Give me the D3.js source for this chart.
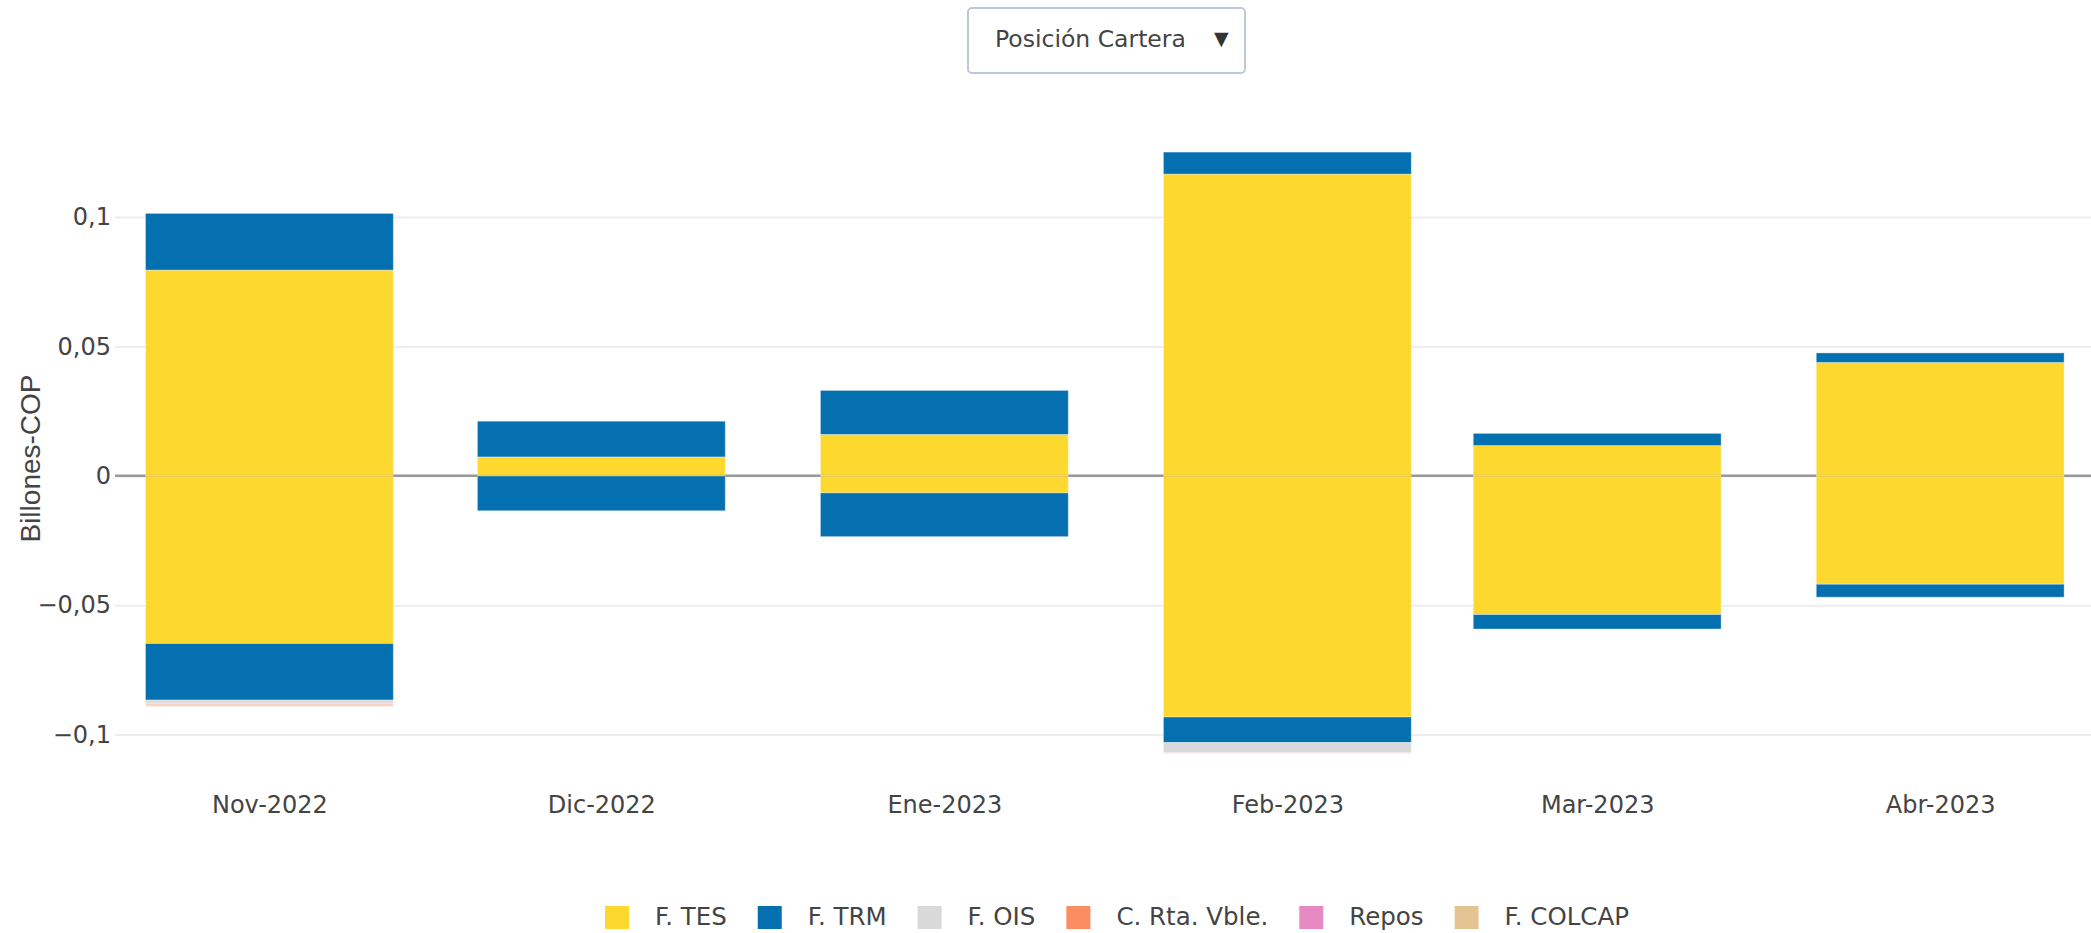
<!DOCTYPE html>
<html>
<head>
<meta charset="utf-8">
<script src="https://cdn.jsdelivr.net/npm/d3@7"></script>
<style>
  body { margin: 0; background: #fff; }
  svg { display: block; }
  .tick text { fill: #444; }
</style>
</head>
<body>
<svg id="chart"></svg>
<script>
// data (Billones COP), one value per month
var months = ["2022-11-01", "2022-12-01", "2023-01-01", "2023-02-01", "2023-03-01", "2023-04-01"];
var tesPos = [0.0795, 0.0073, 0.0160, 0.1166, 0.0117, 0.0438];
var trmPos = [0.0219, 0.0138, 0.0170, 0.0085, 0.0047, 0.0037];
var tesNeg = [-0.0648, 0, -0.0066, -0.0932, -0.0536, -0.0419];
var trmNeg = [-0.0219, -0.0135, -0.0169, -0.0099, -0.0056, -0.0050];
var oisNeg = [-0.0012, 0, 0, -0.0039, 0, 0];
var rtaNeg = [-0.0012, 0, 0, -0.0003, 0, 0];
var reposVals = [0, 0, 0, 0, 0, 0];
var colcapVals = [0, 0, 0, 0, 0, 0];

var yTicks = [-0.1, -0.05, 0, 0.05, 0.1];
var legendNames = ["F. TES", "F. TRM", "F. OIS", "C. Rta. Vble.", "Repos", "F. COLCAP"];
var legendColors = ["#fdd82f", "#0570b0", "#d9d9d9", "#fc8d62", "#e78ac3", "#e5c494"];

var W = 2091, H = 933;
var svg = d3.select("#chart").attr("width", W).attr("height", H);

var parse = d3.timeParse("%Y-%m-%d");
var dates = months.map(parse);
var DAY = 864e5;

var es = d3.timeFormatLocale({
  dateTime: "%A, %e de %B de %Y, %X", date: "%d/%m/%Y", time: "%H:%M:%S",
  periods: ["AM", "PM"],
  days: ["domingo", "lunes", "martes", "miércoles", "jueves", "viernes", "sábado"],
  shortDays: ["dom", "lun", "mar", "mié", "jue", "vie", "sáb"],
  months: ["enero", "febrero", "marzo", "abril", "mayo", "junio", "julio", "agosto", "septiembre", "octubre", "noviembre", "diciembre"],
  shortMonths: ["Ene", "Feb", "Mar", "Abr", "May", "Jun", "Jul", "Ago", "Sep", "Oct", "Nov", "Dic"]
});
var fmtMonth = es.format("%b-%Y");

var plotLeft = 115, plotRight = 2093, plotTop = 142, plotBottom = 776;

var x = d3.scaleTime()
    .domain([dates[0], dates[dates.length - 1]])
    .range([269.4, 1940.2]);

var y = d3.scaleLinear()
    .domain([-0.116, 0.129])
    .range([plotBottom, plotTop]);

// grid + y axis
var yAxis = d3.axisLeft(y)
    .tickValues(yTicks)
    .tickSize(-(plotRight - plotLeft))
    .tickPadding(4)
    .tickFormat(function(d) {
      if (d === 0) return "0";
      return (d < 0 ? "\u2212" : "") + String(Math.abs(d)).replace(".", ",");
    });

var gy = svg.append("g")
    .attr("transform", "translate(" + plotLeft + ",0)")
    .call(yAxis);
gy.select(".domain").remove();
gy.selectAll(".tick line").attr("stroke", "#eeeeee").attr("stroke-width", 2);
gy.selectAll(".tick text")
    .style("font-family", "'DejaVu Sans', Verdana, sans-serif")
    .style("font-size", "24px");

// stacked bars
var keys = ["tesPos", "trmPos", "tesNeg", "trmNeg", "oisNeg", "rtaNeg"];
var keyColor = {
  tesPos: legendColors[0], trmPos: legendColors[1],
  tesNeg: legendColors[0], trmNeg: legendColors[1],
  oisNeg: legendColors[2], rtaNeg: legendColors[3]
};
var rows = dates.map(function(d, i) {
  return { date: d, tesPos: tesPos[i], trmPos: trmPos[i], tesNeg: tesNeg[i],
           trmNeg: trmNeg[i], oisNeg: oisNeg[i], rtaNeg: rtaNeg[i] };
});
var series = d3.stack().keys(keys).offset(d3.stackOffsetDiverging)(rows);

var halfW = 11.2 * DAY;
svg.append("g").selectAll("g")
  .data(series)
  .join("g")
    .attr("fill", function(s) { return keyColor[s.key]; })
    .attr("fill-opacity", function(s) { return s.key === "rtaNeg" ? 0.4 : 1; })
  .selectAll("rect")
  .data(function(s) { return s.filter(function(p) { return p[1] !== p[0]; }); })
  .join("rect")
    .attr("x", function(p) { return x(new Date(+p.data.date - halfW)); })
    .attr("width", function(p) { return x(new Date(+p.data.date + halfW)) - x(new Date(+p.data.date - halfW)); })
    .attr("y", function(p) { return y(Math.max(p[0], p[1])); })
    .attr("height", function(p) { return Math.abs(y(p[0]) - y(p[1])); })
    .attr("stroke", "rgba(255,255,255,0.35)")
    .attr("stroke-width", 1);

// zero line (faint across bars, solid between them)
svg.append("line")
    .attr("x1", plotLeft).attr("x2", plotRight)
    .attr("y1", y(0)).attr("y2", y(0))
    .attr("stroke", "#999")
    .attr("stroke-width", 2.5)
    .attr("opacity", 0.2);
svg.append("g").selectAll("line")
  .data(d3.pairs([plotLeft].concat(d3.merge(dates.map(function(d) {
      return [x(new Date(+d - halfW)), x(new Date(+d + halfW))];
    }))).concat([plotRight])).filter(function(p, i) { return i % 2 === 0; }))
  .join("line")
    .attr("x1", function(p) { return p[0]; })
    .attr("x2", function(p) { return p[1]; })
    .attr("y1", y(0)).attr("y2", y(0))
    .attr("stroke", "#999")
    .attr("stroke-width", 2.5);

// x axis
var gx = svg.append("g")
    .attr("transform", "translate(0," + plotBottom + ")")
    .call(d3.axisBottom(x).tickValues(dates).tickSize(0).tickPadding(20).tickFormat(fmtMonth));
gx.select(".domain").remove();
gx.selectAll(".tick text")
    .style("font-family", "'DejaVu Sans', Verdana, sans-serif")
    .style("font-size", "24px");

// y title
svg.append("text")
    .attr("transform", "translate(40,458.5) rotate(-90)")
    .attr("text-anchor", "middle")
    .style("font-family", "'Liberation Sans', Arial, sans-serif")
    .style("font-size", "28px")
    .style("fill", "#444")
    .text("Billones-COP");

// dropdown
svg.append("rect")
    .attr("x", 968).attr("y", 8)
    .attr("width", 277).attr("height", 65)
    .attr("rx", 4)
    .attr("fill", "#fff")
    .attr("stroke", "#bec8d9")
    .attr("stroke-width", 2);
svg.append("text")
    .attr("x", 995).attr("y", 47)
    .style("font-family", "'DejaVu Sans', Verdana, sans-serif")
    .style("font-size", "23.5px")
    .style("fill", "#444")
    .text("Posición Cartera");
svg.append("text")
    .attr("x", 1214).attr("y", 45)
    .style("font-family", "'DejaVu Sans', Verdana, sans-serif")
    .style("font-size", "19px")
    .style("fill", "#333")
    .text("▼");

// legend
var lx = 605;
legendNames.forEach(function(name, i) {
  var g = svg.append("g").attr("transform", "translate(" + lx + ",0)");
  g.append("rect")
      .attr("x", 0).attr("y", 906)
      .attr("width", 24).attr("height", 23)
      .attr("fill", legendColors[i]);
  var t = g.append("text")
      .attr("x", 50).attr("y", 925)
      .style("font-family", "'DejaVu Sans', Verdana, sans-serif")
      .style("font-size", "24.5px")
      .style("fill", "#444")
      .text(name);
  lx += 50 + t.node().getComputedTextLength() + 31;
});
</script>
</body>
</html>
